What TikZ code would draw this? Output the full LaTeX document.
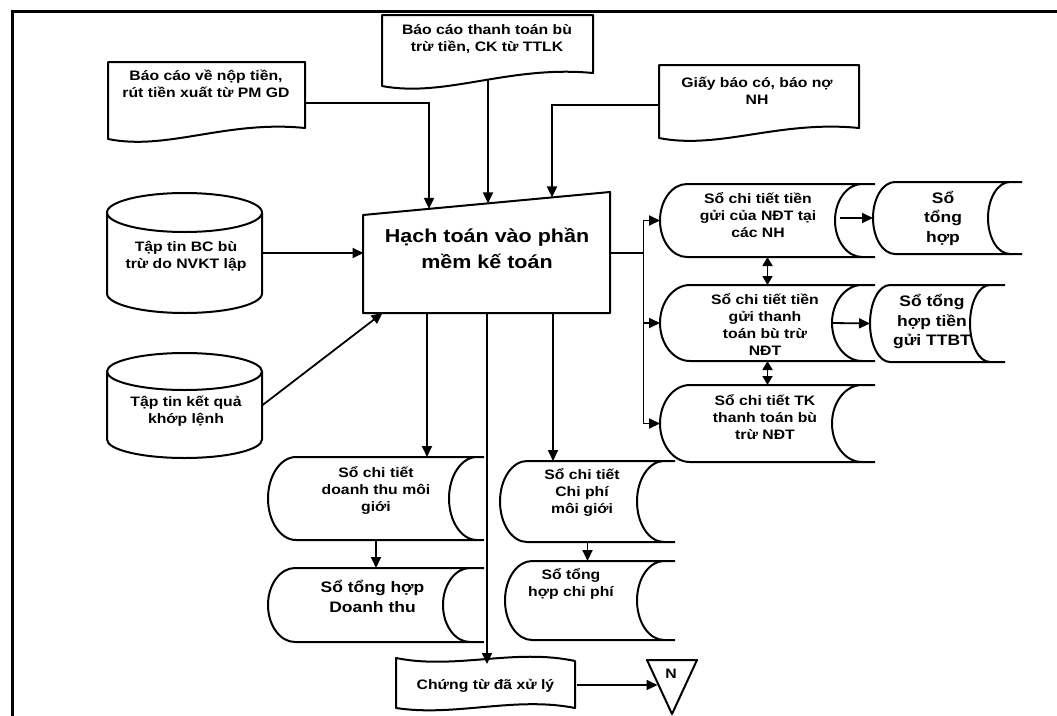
\documentclass[tikz,border=0pt]{standalone}
\usepackage{fontspec}
\setmainfont{Liberation Sans}[FakeStretch=1.15]
\usetikzlibrary{arrows.meta}

\tikzset{
  shp/.style={line width=2pt, line join=round},
  con/.style={line width=1.8pt},
  arr/.style={con, -{Triangle[length=11pt,width=10pt]}},
  darr/.style={con, {Triangle[length=9pt,width=10pt]}-{Triangle[length=9pt,width=10pt]}},
  hold/.style={rectangle, draw=none, inner sep=0pt, outer sep=0pt},
  txt/.style={align=center, inner sep=0pt, font=\bfseries\fontsize{13.7}{17}\selectfont},
  bigtxt/.style={align=center, inner sep=0pt, font=\bfseries\fontsize{15.2}{19.5}\selectfont},
  titletxt/.style={align=center, inner sep=0pt, font=\bfseries\fontsize{18.7}{26}\selectfont},
}

% document symbol: left, top, right, right-bottom, left-bottom
\newcommand\docshape[5]{%
  \pgfmathsetmacro\dsW{#3-#1}%
  \pgfmathsetmacro\dsA{#1+0.6*\dsW}%
  \pgfmathsetmacro\dsB{#1+0.3*\dsW}%
  \draw[shp] (#1,#2) -- (#3,#2) -- (#3,#4)
    .. controls (\dsA,#4-8) and (\dsB,#5+12) .. (#1,#5) -- cycle;
}

% stored-data symbol: left, top, line end, bottom, arc depth, arc offset
\newcommand\sdshape[6]{%
  \pgfmathsetmacro\sdA{#1+#5}%
  \pgfmathsetmacro\sdB{#3-#6}%
  \pgfmathsetmacro\sdC{#3-#6-#5}%
  \pgfmathsetmacro\sdM{(#2+#4)/2}%
  \pgfmathsetmacro\sdK{0.552*#5}%
  \pgfmathsetmacro\sdH{0.552*(#4-#2)/2}%
  \draw[shp] (\sdA,#2) -- (#3,#2) (\sdA,#4) -- (#3,#4)
    (\sdA,#2) .. controls (\sdA-\sdK,#2) and (#1,\sdM-\sdH) .. (#1,\sdM)
              .. controls (#1,\sdM+\sdH) and (\sdA-\sdK,#4) .. (\sdA,#4)
    (\sdB,#2) .. controls (\sdB-\sdK,#2) and (\sdC,\sdM-\sdH) .. (\sdC,\sdM)
              .. controls (\sdC,\sdM+\sdH) and (\sdB-\sdK,#4) .. (\sdB,#4);
}

% disk-file symbol: left, top, right, bottom, ellipse half-height
\newcommand\cylshape[5]{%
  \pgfmathsetmacro\cyX{(#1+#3)/2}%
  \pgfmathsetmacro\cyR{(#3-#1)/2}%
  \pgfmathsetmacro\cyT{#2+#5}%
  \pgfmathsetmacro\cyB{#4-#5}%
  \draw[shp] (\cyX,\cyT) ellipse [x radius=\cyR pt, y radius=#5 pt];
  \draw[shp] (#1,\cyT) -- (#1,\cyB)
    .. controls (#1,\cyB+0.552*#5) and (\cyX-0.552*\cyR,#4) .. (\cyX,#4)
    .. controls (\cyX+0.552*\cyR,#4) and (#3,\cyB+0.552*#5) .. (#3,\cyB) -- (#3,\cyT);
}

\begin{document}
\begin{tikzpicture}[x=1pt,y=-1pt]
\useasboundingbox (0,0) rectangle (1057,715);

% frame
\draw[line width=3pt] (12,716) -- (12,11) -- (1057,11);

% outlines
\docshape{108}{62}{305}{128}{139}
\docshape{382}{15}{593}{73}{86}
\docshape{659}{65}{859}{128}{138}
\cylshape{107}{193}{262}{313}{19.5}
\cylshape{107}{353}{262}{458}{18.5}
\draw[shp] (363,215) -- (610,192) -- (610,313) -- (363,313) -- cycle;
\sdshape{660}{184}{875}{257}{27}{13}
\sdshape{660}{285}{875}{361}{30}{13}
\sdshape{660}{385}{875}{462}{30}{13}
\sdshape{873}{182}{1022}{254}{22}{12}
\sdshape{870}{285}{1005}{362}{20}{15}
\sdshape{268}{457}{484}{540}{28}{7}
\sdshape{500}{461}{675}{542}{27}{11}
\sdshape{268}{568}{484}{642}{27}{14}
\sdshape{505}{561}{675}{640}{27}{11}
\draw[shp] (396,658) .. controls (455,670) and (515,648) .. (575,661) -- (575,708)
  .. controls (515,696) and (455,717) .. (396,708) -- cycle;
\draw[shp] (647,660) -- (697,660) -- (672,714) -- cycle;

% connection frames of the symbols
\node[hold, minimum width=197pt, minimum height=82pt] (doc1) at (206.5,103) {};
\node[hold, minimum width=211pt, minimum height=65pt] (doc2) at (488,47.5) {};
\node[hold, minimum width=200pt, minimum height=80pt] (doc3) at (759,105) {};
\node[hold, minimum width=155pt, minimum height=120pt] (cyl1) at (184.5,253) {};
\node[hold, minimum width=155pt, minimum height=105pt] (cyl2) at (184.5,405.5) {};
\node[hold, minimum width=247pt, minimum height=120pt] (main) at (487,253) {};
\node[hold, minimum width=215pt, minimum height=73pt] (sd1) at (767.5,220.5) {};
\node[hold, minimum width=215pt, minimum height=76pt] (sd2) at (767.5,323) {};
\node[hold, minimum width=215pt, minimum height=77pt] (sd3) at (767.5,423.5) {};
\node[hold, minimum width=149pt, minimum height=72pt] (sd4) at (947.5,218) {};
\node[hold, minimum width=135pt, minimum height=77pt] (sd5) at (937.5,323.5) {};
\node[hold, minimum width=216pt, minimum height=83pt] (sd6) at (376,498.5) {};
\node[hold, minimum width=175pt, minimum height=81pt] (sd7) at (587.5,501.5) {};
\node[hold, minimum width=216pt, minimum height=74pt] (sd8) at (376,605) {};
\node[hold, minimum width=170pt, minimum height=79pt] (sd9) at (590,600.5) {};
\node[hold, minimum width=179pt, minimum height=42pt] (ct) at (487,685) {};

% texts
\node[txt] (doc1-t) at (206,84) {Báo cáo về nộp tiền,\\rút tiền xuất từ PM GD};
\node[txt] (doc2-t) at (487,39) {Báo cáo thanh toán bù\\trừ tiền, CK từ TTLK};
\node[txt] (doc3-t) at (757,90.5) {Giấy báo có, báo nợ\\NH};
\node[txt] (cyl1-t) at (186,256.5) {Tập tin BC bù\\trừ do NVKT lập};
\node[txt] (cyl2-t) at (186,411.5) {Tập tin kết quả\\khớp lệnh};
\node[titletxt] (main-t) at (487,248) {Hạch toán vào phần\\mềm kế toán};
\node[txt] (sd1-t) at (758,215) {Sổ chi tiết tiền\\gửi của NĐT tại\\các NH};
\node[txt] (sd2-t) at (765,324) {Sổ chi tiết tiền\\gửi thanh\\toán bù trừ\\NĐT};
\node[txt] (sd3-t) at (765,417) {Sổ chi tiết TK\\thanh toán bù\\trừ NĐT};
\node[bigtxt] (sd4-t) at (943,218) {Sổ\\tổng\\hợp};
\node[bigtxt] (sd5-t) at (932,321.5) {Sổ tổng\\hợp tiền\\gửi TTBT};
\node[txt] (sd6-t) at (376,490) {Sổ chi tiết\\doanh thu môi\\giới};
\node[txt] (sd7-t) at (582,492) {Sổ chi tiết\\Chi phí\\môi giới};
\node[bigtxt] (sd8-t) at (372.5,596.5) {Sổ tổng hợp\\Doanh thu};
\node[txt] (sd9-t) at (571,584) {Sổ tổng\\hợp chi phí};
\node[txt] (ct-t) at (485.5,686) {Chứng từ đã xử lý};
\node[txt] (off-t) at (671,674) {N};

% connector end points
\coordinate (in1) at (429,208.9);
\coordinate (in2) at (488,203.4);
\coordinate (in3) at (552,197.4);
\coordinate (in4) at ([xshift=19pt]main.south west);
\coordinate (bus) at ([xshift=33pt]main.east);
\coordinate (sd1out) at ([xshift=-35pt,yshift=2.5pt]sd1.east);
\coordinate (sd2out) at ([xshift=-42pt]sd2.east);
\coordinate (out1) at ([xshift=-60pt]main.south);
\coordinate (out3) at ([xshift=66pt]main.south);
\coordinate (offW) at (657.5,685);

% connectors
\draw[arr] (doc1.east) -| (in1);
\draw[arr] (doc2.south) -- (in2);
\draw[arr] (doc3.west) -| (in3);
\draw[arr] (cyl1.east) -- (main.west);
\draw[arr] (cyl2.east) -- (in4);
\draw[con] (main.east) -- (bus);
\draw[arr] (bus) |- (sd1.west);
\draw[arr] (bus) |- (sd2.west);
\draw[arr] (bus) |- (sd3.west);
\draw[arr] (sd1out) -- (sd4.west);
\draw[arr] (sd2out) -- (sd5.west);
\draw[darr] (sd1.south) -- (sd2.north);
\draw[darr] (sd2.south) -- (sd3.north);
\draw[arr] (out1) -- (out1 |- sd6.north);
\draw[arr] (out3) -- (out3 |- sd7.north);
\draw[arr] (main.south) -- (ct.north);
\draw[arr] (sd6.south) -- (sd8.north);
\draw[arr] (sd7.south) -- (sd7.south |- sd9.north);
\draw[arr] (ct.east) -- (offW);
\end{tikzpicture}
\end{document}
